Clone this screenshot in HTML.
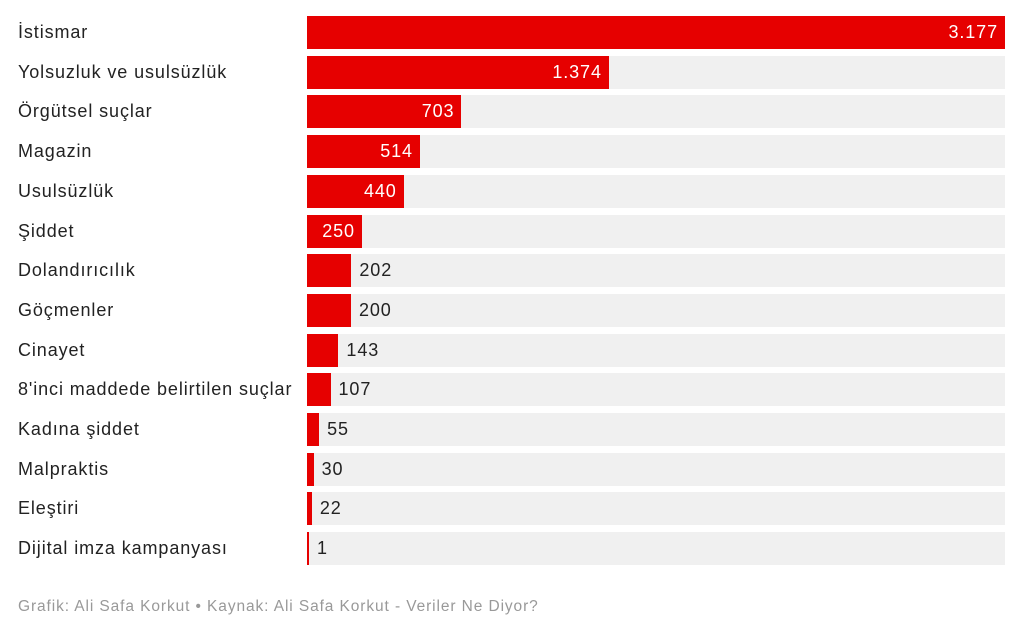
<!DOCTYPE html>
<html><head><meta charset="utf-8"><style>
body{margin:0;width:1024px;height:636px;background:#fff;font-family:"Liberation Sans",sans-serif;position:relative;overflow:hidden}
.l{position:absolute;left:18px;font-size:18px;letter-spacing:0.9px;color:#222;line-height:33px;white-space:nowrap}
.bg{position:absolute;left:307px;width:698px;height:33px;background:#f0f0f0}
.b{position:absolute;left:307px;height:33px;background:#e60000}
.v{position:absolute;font-size:18px;letter-spacing:0.9px;line-height:33px;white-space:nowrap}
.f{position:absolute;left:18px;top:598px;font-size:15.5px;letter-spacing:0.9px;color:#999}
</style></head><body>
<div id="c"></div>
<div class="f">Grafik: Ali Safa Korkut • Kaynak: Ali Safa Korkut - Veriler Ne Diyor?</div>
<script>
var d=[["İstismar",3177,"3.177"],["Yolsuzluk ve usulsüzlük",1374,"1.374"],["Örgütsel suçlar",703,"703"],["Magazin",514,"514"],["Usulsüzlük",440,"440"],["Şiddet",250,"250"],["Dolandırıcılık",202,"202"],["Göçmenler",200,"200"],["Cinayet",143,"143"],["8'inci maddede belirtilen suçlar",107,"107"],["Kadına şiddet",55,"55"],["Malpraktis",30,"30"],["Eleştiri",22,"22"],["Dijital imza kampanyası",1,"1"]];
var h="";
d.forEach(function(r,i){
var t=16+i*39.7,w=Math.max(2,r[1]*698/3177);
h+='<div class="l" style="top:'+t+'px">'+r[0]+'</div><div class="bg" style="top:'+t+'px"></div><div class="b" style="top:'+t+'px;width:'+w+'px"></div>';
if(r[1]>=250)h+='<div class="v" style="top:'+t+'px;right:'+(1024-307-w+7)+'px;color:#fff">'+r[2]+'</div>';
else h+='<div class="v" style="top:'+t+'px;left:'+(307+w+8)+'px;color:#222">'+r[2]+'</div>';
});
document.getElementById("c").innerHTML=h;
</script>
</body></html>
